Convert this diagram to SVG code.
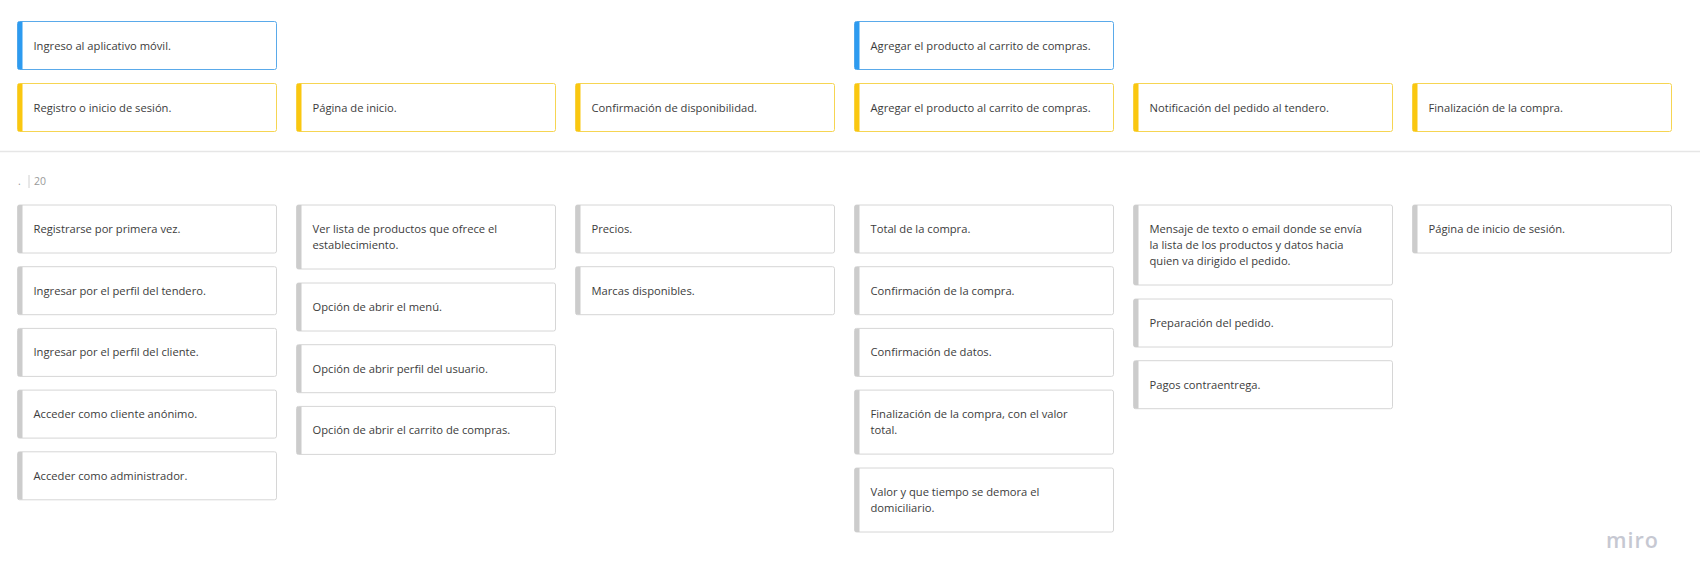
<svg xmlns="http://www.w3.org/2000/svg" width="1700" height="588" viewBox="0 0 1700 588">
<style>
.card{fill:#ffffff;stroke-width:1}
.blue{stroke:#5aaaea}
.yellow{stroke:#f6d552}
.grey{stroke:#d6d6d6}
.sb{fill:#2d9bf0}
.sy{fill:#fac710}
.sg{fill:#cccccc}
text{font-family:"Open Sans","Liberation Sans",sans-serif;font-size:11.2px;fill:#3c3c3c}
.meta{fill:#9a9a9a;font-size:10.5px}
.logo{font-family:"Open Sans","Liberation Sans",sans-serif;font-weight:600;font-size:21.5px;fill:#c6c8d2;letter-spacing:1px}
</style>
<defs>
<clipPath id="c48"><rect x="0" y="0" width="259" height="48" rx="2"/></clipPath>
<clipPath id="c64"><rect x="0" y="0" width="259" height="64" rx="2"/></clipPath>
<clipPath id="c80"><rect x="0" y="0" width="259" height="80" rx="2"/></clipPath>
</defs>
<rect width="1700" height="588" fill="#ffffff"/>
<line x1="0" y1="151.5" x2="1700" y2="151.5" stroke="#e6e6e6" stroke-width="1.5"/>
<g id="frame-label">
<text class="meta" x="18" y="185">.</text>
<line x1="29" y1="175" x2="29" y2="188" stroke="#d0d0d0" stroke-width="1"/>
<text class="meta" x="34" y="185">20</text>
</g>
<g id="connectors"></g>

<g id="n-blue1" transform="translate(17.5,21.5)"><rect class="card blue" width="259" height="48" rx="2"/><rect class="sb" width="5" height="48" clip-path="url(#c48)"/><text x="16" y="28">Ingreso al aplicativo móvil.</text></g>
<g id="n-blue2" transform="translate(854.5,21.5)"><rect class="card blue" width="259" height="48" rx="2"/><rect class="sb" width="5" height="48" clip-path="url(#c48)"/><text x="16" y="28">Agregar el producto al carrito de compras.</text></g>

<g id="n-y1" transform="translate(17.5,83.5)"><rect class="card yellow" width="259" height="48" rx="2"/><rect class="sy" width="5" height="48" clip-path="url(#c48)"/><text x="16" y="28">Registro o inicio de sesión.</text></g>
<g id="n-y2" transform="translate(296.5,83.5)"><rect class="card yellow" width="259" height="48" rx="2"/><rect class="sy" width="5" height="48" clip-path="url(#c48)"/><text x="16" y="28">Página de inicio.</text></g>
<g id="n-y3" transform="translate(575.5,83.5)"><rect class="card yellow" width="259" height="48" rx="2"/><rect class="sy" width="5" height="48" clip-path="url(#c48)"/><text x="16" y="28">Confirmación de disponibilidad.</text></g>
<g id="n-y4" transform="translate(854.5,83.5)"><rect class="card yellow" width="259" height="48" rx="2"/><rect class="sy" width="5" height="48" clip-path="url(#c48)"/><text x="16" y="28">Agregar el producto al carrito de compras.</text></g>
<g id="n-y5" transform="translate(1133.5,83.5)"><rect class="card yellow" width="259" height="48" rx="2"/><rect class="sy" width="5" height="48" clip-path="url(#c48)"/><text x="16" y="28">Notificación del pedido al tendero.</text></g>
<g id="n-y6" transform="translate(1412.5,83.5)"><rect class="card yellow" width="259" height="48" rx="2"/><rect class="sy" width="5" height="48" clip-path="url(#c48)"/><text x="16" y="28">Finalización de la compra.</text></g>

<!-- column 1 -->
<g id="n-c1-1" transform="translate(17.5,205)"><rect class="card grey" width="259" height="48" rx="2"/><rect class="sg" width="5" height="48" clip-path="url(#c48)"/><text x="16" y="28">Registrarse por primera vez.</text></g>
<g id="n-c1-2" transform="translate(17.5,266.7)"><rect class="card grey" width="259" height="48" rx="2"/><rect class="sg" width="5" height="48" clip-path="url(#c48)"/><text x="16" y="28">Ingresar por el perfil del tendero.</text></g>
<g id="n-c1-3" transform="translate(17.5,328.4)"><rect class="card grey" width="259" height="48" rx="2"/><rect class="sg" width="5" height="48" clip-path="url(#c48)"/><text x="16" y="28">Ingresar por el perfil del cliente.</text></g>
<g id="n-c1-4" transform="translate(17.5,390.1)"><rect class="card grey" width="259" height="48" rx="2"/><rect class="sg" width="5" height="48" clip-path="url(#c48)"/><text x="16" y="28">Acceder como cliente anónimo.</text></g>
<g id="n-c1-5" transform="translate(17.5,451.8)"><rect class="card grey" width="259" height="48" rx="2"/><rect class="sg" width="5" height="48" clip-path="url(#c48)"/><text x="16" y="28">Acceder como administrador.</text></g>

<!-- column 2 -->
<g id="n-c2-1" transform="translate(296.5,205)"><rect class="card grey" width="259" height="64" rx="2"/><rect class="sg" width="5" height="64" clip-path="url(#c64)"/><text x="16" y="28">Ver lista de productos que ofrece el</text><text x="16" y="44">establecimiento.</text></g>
<g id="n-c2-2" transform="translate(296.5,283)"><rect class="card grey" width="259" height="48" rx="2"/><rect class="sg" width="5" height="48" clip-path="url(#c48)"/><text x="16" y="28">Opción de abrir el menú.</text></g>
<g id="n-c2-3" transform="translate(296.5,344.7)"><rect class="card grey" width="259" height="48" rx="2"/><rect class="sg" width="5" height="48" clip-path="url(#c48)"/><text x="16" y="28">Opción de abrir perfil del usuario.</text></g>
<g id="n-c2-4" transform="translate(296.5,406.4)"><rect class="card grey" width="259" height="48" rx="2"/><rect class="sg" width="5" height="48" clip-path="url(#c48)"/><text x="16" y="28">Opción de abrir el carrito de compras.</text></g>

<!-- column 3 -->
<g id="n-c3-1" transform="translate(575.5,205)"><rect class="card grey" width="259" height="48" rx="2"/><rect class="sg" width="5" height="48" clip-path="url(#c48)"/><text x="16" y="28">Precios.</text></g>
<g id="n-c3-2" transform="translate(575.5,266.7)"><rect class="card grey" width="259" height="48" rx="2"/><rect class="sg" width="5" height="48" clip-path="url(#c48)"/><text x="16" y="28">Marcas disponibles.</text></g>

<!-- column 4 -->
<g id="n-c4-1" transform="translate(854.5,205)"><rect class="card grey" width="259" height="48" rx="2"/><rect class="sg" width="5" height="48" clip-path="url(#c48)"/><text x="16" y="28">Total de la compra.</text></g>
<g id="n-c4-2" transform="translate(854.5,266.7)"><rect class="card grey" width="259" height="48" rx="2"/><rect class="sg" width="5" height="48" clip-path="url(#c48)"/><text x="16" y="28">Confirmación de la compra.</text></g>
<g id="n-c4-3" transform="translate(854.5,328.4)"><rect class="card grey" width="259" height="48" rx="2"/><rect class="sg" width="5" height="48" clip-path="url(#c48)"/><text x="16" y="28">Confirmación de datos.</text></g>
<g id="n-c4-4" transform="translate(854.5,390.1)"><rect class="card grey" width="259" height="64" rx="2"/><rect class="sg" width="5" height="64" clip-path="url(#c64)"/><text x="16" y="28">Finalización de la compra, con el valor</text><text x="16" y="44">total.</text></g>
<g id="n-c4-5" transform="translate(854.5,468)"><rect class="card grey" width="259" height="64" rx="2"/><rect class="sg" width="5" height="64" clip-path="url(#c64)"/><text x="16" y="28">Valor y que tiempo se demora el</text><text x="16" y="44">domiciliario.</text></g>

<!-- column 5 -->
<g id="n-c5-1" transform="translate(1133.5,205)"><rect class="card grey" width="259" height="80" rx="2"/><rect class="sg" width="5" height="80" clip-path="url(#c80)"/><text x="16" y="28">Mensaje de texto o email donde se envía</text><text x="16" y="44">la lista de los productos y datos hacia</text><text x="16" y="60">quien va dirigido el pedido.</text></g>
<g id="n-c5-2" transform="translate(1133.5,299)"><rect class="card grey" width="259" height="48" rx="2"/><rect class="sg" width="5" height="48" clip-path="url(#c48)"/><text x="16" y="28">Preparación del pedido.</text></g>
<g id="n-c5-3" transform="translate(1133.5,360.7)"><rect class="card grey" width="259" height="48" rx="2"/><rect class="sg" width="5" height="48" clip-path="url(#c48)"/><text x="16" y="28">Pagos contraentrega.</text></g>

<!-- column 6 -->
<g id="n-c6-1" transform="translate(1412.5,205)"><rect class="card grey" width="259" height="48" rx="2"/><rect class="sg" width="5" height="48" clip-path="url(#c48)"/><text x="16" y="28">Página de inicio de sesión.</text></g>

<text class="logo" x="1606" y="548">miro</text>
</svg>
